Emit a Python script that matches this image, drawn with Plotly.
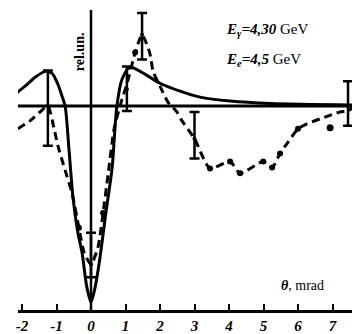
import plotly.graph_objects as go

# ---- data (x in mrad, y in rel. units) ----
theory_x = [-2.2, -1.91, -1.62, -1.33, -1.13, -0.96, -0.84, -0.75, -0.64, -0.52, -0.38, -0.26, -0.12, 0.0,
            0.12, 0.26, 0.43, 0.61, 0.75, 0.90, 1.13, 1.57, 2.0, 2.58, 3.16, 4.03, 5.2, 7.7]
theory_y = [0.12, 0.20, 0.29, 0.35, 0.33, 0.22, 0.10, 0.0, -0.43, -0.93, -1.28, -1.48, -1.83, -1.98,
            -1.83, -1.53, -1.08, -0.63, 0.0, 0.27, 0.39, 0.32, 0.23, 0.15, 0.09, 0.05, 0.025, 0.01]

exp_x = [-2.12, -1.77, -1.48, -1.25, -1.07, -0.96, -0.75, -0.55, -0.35, -0.2, 0.0, 0.2, 0.35, 0.5, 0.67,
         0.9, 1.04, 1.28, 1.48, 1.7, 1.8, 2.0, 2.23, 2.49, 2.6, 3.0, 3.45, 4.03, 4.32, 4.99, 5.25, 5.48,
         5.68, 6.0, 6.26, 6.64, 7.22, 7.45, 7.6]
exp_y = [-0.23, -0.15, -0.06, 0.0, -0.23, -0.40, -0.65, -0.88, -1.23, -1.48, -1.60, -1.43, -1.08, -0.68,
         -0.23, 0.07, 0.22, 0.54, 0.72, 0.54, 0.35, 0.20, 0.04, -0.06, -0.13, -0.33, -0.63, -0.56, -0.68,
         -0.56, -0.62, -0.48, -0.38, -0.23, -0.18, -0.13, -0.06, -0.05, -0.01]

dot_x = [3.45, 4.03, 4.32, 4.99, 5.25, 5.48, 6.0, -0.35, 0.35, 1.28]
dot_y = [-0.63, -0.56, -0.68, -0.56, -0.62, -0.48, -0.23, -1.23, -1.08, 0.54]

extra_x = [6.93]
extra_y = [-0.22]

err_x = [-1.25, 1.04, 1.48, 3.0, 7.45, 0.0]
err_y = [0.0, 0.17, 0.72, -0.33, 0.0, -1.60]
err_plus = [0.36, 0.23, 0.22, 0.27, 0.25, 0.32]
err_minus = [0.40, 0.22, 0.25, 0.20, 0.20, 0.13]

tick_vals = [-2, -1, 0, 1, 2, 3, 4, 5, 6, 7]
tick_text = ["-2", "-1", "0", "1", "2", "3", "4", "5", "6", "7"]

fig = go.Figure()

fig.add_trace(go.Scatter(x=theory_x, y=theory_y, mode="lines",
                         line=dict(color="black", width=3, shape="spline", smoothing=0.8),
                         cliponaxis=False, hoverinfo="skip"))
fig.add_trace(go.Scatter(x=exp_x, y=exp_y, mode="lines",
                         line=dict(color="black", width=3, dash="8px,5px", shape="spline", smoothing=0.6),
                         cliponaxis=False, hoverinfo="skip"))
fig.add_trace(go.Scatter(x=dot_x, y=dot_y, mode="markers",
                         marker=dict(color="black", size=6), cliponaxis=False))
fig.add_trace(go.Scatter(x=extra_x, y=extra_y, mode="markers",
                         marker=dict(color="black", size=7), cliponaxis=False))
fig.add_trace(go.Scatter(x=[exp_x[0]], y=[exp_y[0]], mode="markers",
                         marker=dict(color="white", size=7, line=dict(color="black", width=2.5)),
                         cliponaxis=False))
fig.add_trace(go.Scatter(x=err_x, y=err_y, mode="markers",
                         marker=dict(color="black", size=4),
                         error_y=dict(type="data", symmetric=False, array=err_plus, arrayminus=err_minus,
                                      color="black", thickness=2.5, width=5),
                         cliponaxis=False))

# axes lines
fig.add_shape(type="line", x0=-2.2, x1=7.72, y0=0, y1=0, line=dict(color="black", width=3))
fig.add_shape(type="line", x0=0, x1=0, y0=0.97, y1=-2.06, line=dict(color="black", width=2.5))

fig.add_annotation(x=-0.33, y=0.55, text="<b>rel.un.</b>", textangle=-90, showarrow=False,
                   font=dict(family="Liberation Serif", size=14, color="black"))
fig.add_annotation(x=3.85, y=0.77, xanchor="left",
                   text="<b><i>E<sub>γ</sub>=4,30</i></b> GeV", showarrow=False,
                   font=dict(family="Liberation Serif", size=15, color="black"))
fig.add_annotation(x=3.85, y=0.46, xanchor="left",
                   text="<b><i>E<sub>e</sub>=4,5</i></b> GeV", showarrow=False,
                   font=dict(family="Liberation Serif", size=15, color="black"))
fig.add_annotation(x=5.45, y=-1.81, xanchor="left",
                   text="<b><i>θ</i></b>, mrad", showarrow=False,
                   font=dict(family="Liberation Serif", size=14, color="black"))

# page has an 8px body margin: figure is 352x326 so it fills the 360x334 window
fig.update_layout(
    width=352, height=326,
    margin=dict(l=10, r=3, t=0, b=21),
    paper_bgcolor="white", plot_bgcolor="white",
    showlegend=False,
    xaxis=dict(range=[-2.116, 7.710], tickvals=tick_vals, ticktext=tick_text,
               ticks="inside", ticklen=6, tickwidth=2, tickcolor="black",
               showline=True, linewidth=3, linecolor="black", showgrid=False, zeroline=False,
               tickfont=dict(family="Liberation Serif", size=15, color="black", weight="bold", style="italic")),
    yaxis=dict(range=[-2.06, 0.99], visible=False, showgrid=False, zeroline=False),
)

fig.write_html("out.html")
